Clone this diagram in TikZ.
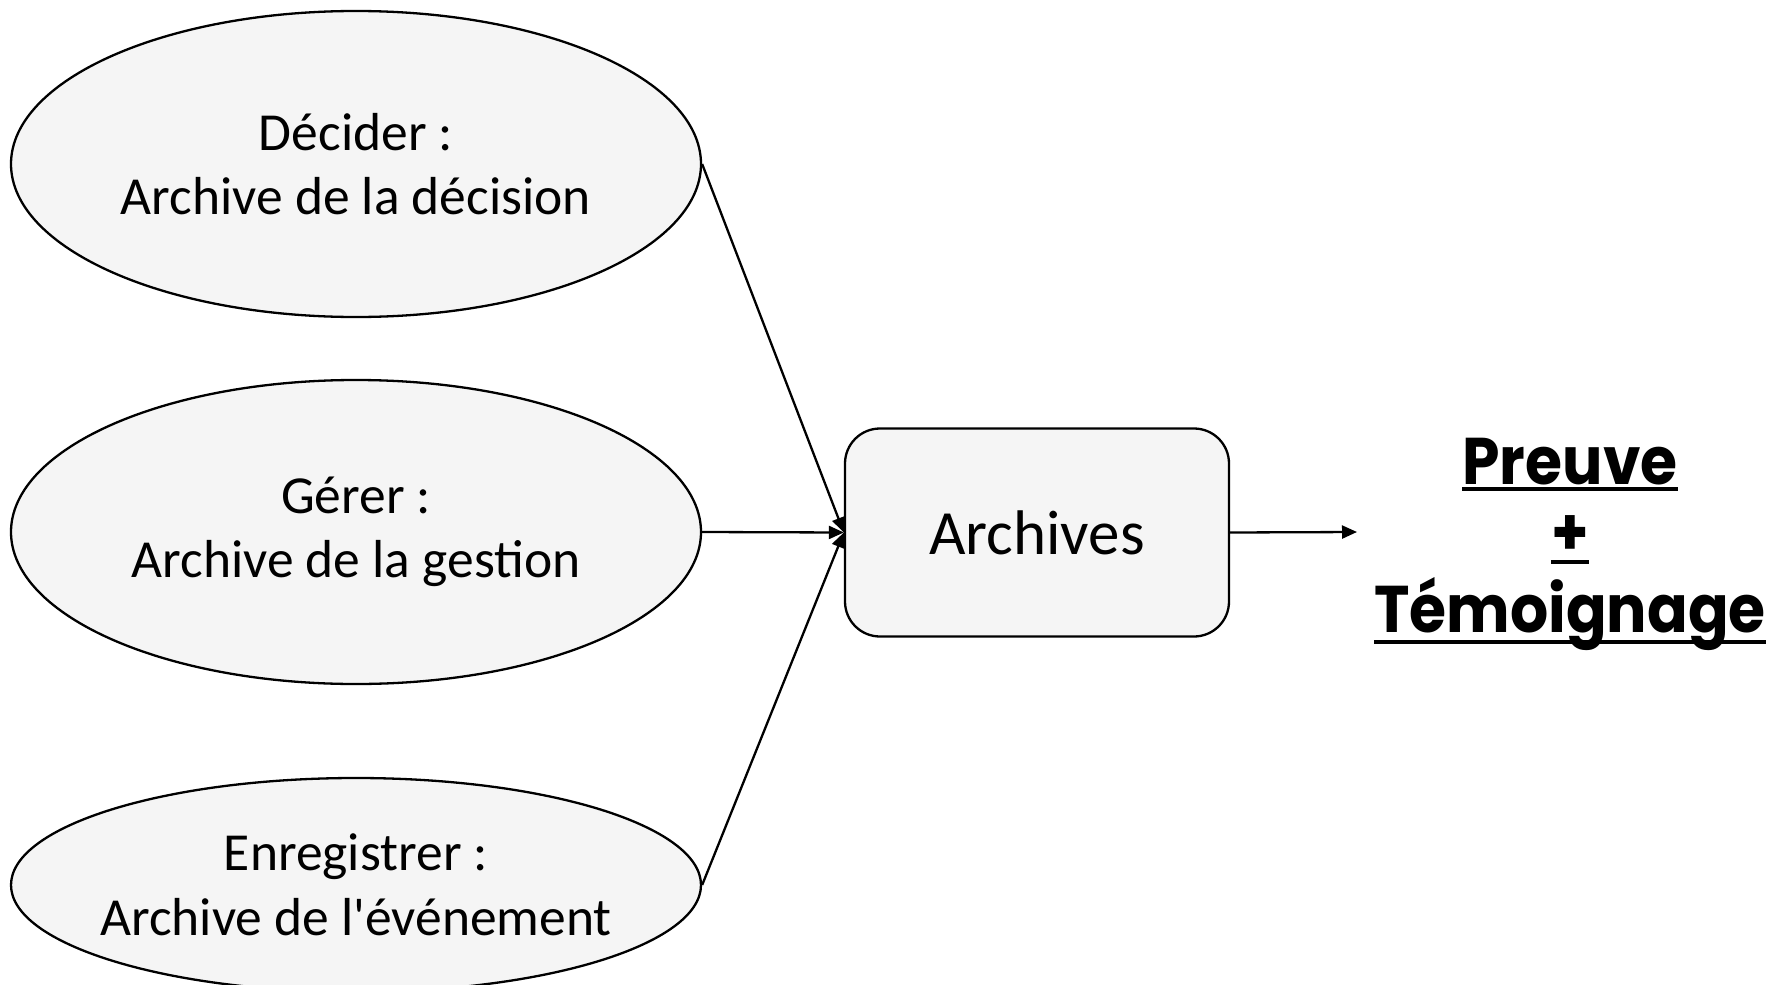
\documentclass[tikz,border=0pt]{standalone}
\usepackage{fontspec}
\setmainfont{Carlito}[Ligatures=TeXOff]
\newfontfamily\gothicb{Poppins}[UprightFont=* Bold]
\usetikzlibrary{shapes.geometric,arrows.meta}
\definecolor{lightfill}{HTML}{F5F5F5}
\begin{document}
\begin{tikzpicture}[x=1pt,y=-1pt,
  oval/.style={ellipse, draw=black, line width=2.3pt, fill=lightfill, inner xsep=-30pt, inner ysep=0pt,
    minimum width=690pt, align=center, font=\fontsize{53.5}{64.5}\selectfont},
  boxnode/.style={rectangle, rounded corners=35pt, draw=black, line width=2.3pt, fill=lightfill,
    minimum width=384pt, minimum height=208pt, font=\fontsize{63}{70}\selectfont},
  conn/.style={line width=2.3pt, -{Triangle[length=15pt,width=13pt]}},
  restext/.style={inner sep=0pt, anchor=base, font=\gothicb\fontsize{60}{70}\selectfont},
  uline/.style={line width=3.5pt}]
\useasboundingbox (0,0) rectangle (1773,985);
\node[oval, minimum height=306pt] (e1) at (356,164) {Décider :\\Archive de la décision};
\node[oval, minimum height=304pt] (e2) at (356,532) {Gérer :\\Archive de la gestion};
\node[oval, minimum height=214pt] (e3) at (356,885) {Enregistrer :\\Archive de l'événement};
\node[boxnode] (arch) at (1037,532.5) {Archives};
\coordinate (out) at (1357,532);
\draw[conn] (e1.east) -- (arch.west);
\draw[conn] (e2.east) -- (arch.west);
\draw[conn] (e3.east) -- (arch.west);
\draw[conn] (arch.east) -- (out);
\node[restext] (p1) at (1570,484) {\scalebox{1}[1.1]{Preuve}};
\node[restext] (p2) at (1570,555) {\scalebox{1}[1.1]{+}};
\node[restext] (p3) at (1570,632) {\scalebox{1}[1.1]{Témoignage}};
\draw[uline] ([yshift=-5pt]p1.base west) -- ([yshift=-5pt]p1.base east);
\draw[uline] ([yshift=-7pt]p2.base west) -- ([yshift=-7pt]p2.base east);
\draw[uline] ([yshift=-10pt]p3.base west) -- ([yshift=-10pt]p3.base east);
\end{tikzpicture}
\end{document}
